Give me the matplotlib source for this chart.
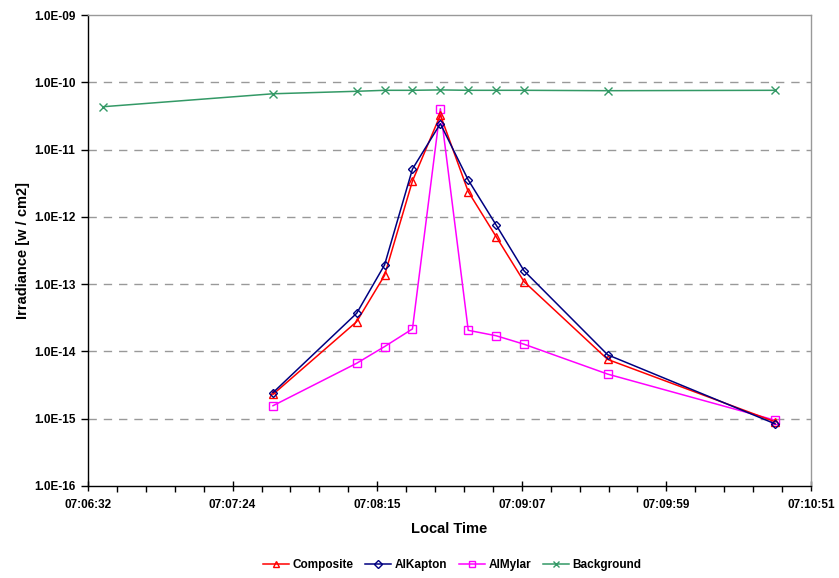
import matplotlib
matplotlib.use("Agg")
import matplotlib.pyplot as plt
from matplotlib.ticker import FixedLocator, FuncFormatter, NullFormatter
import numpy as np

plt.rcParams['font.family'] = ['Liberation Sans', 'DejaVu Sans']

# ---- data ----
bg_times = ["07:06:37", "07:07:38", "07:08:08", "07:08:18", "07:08:28", "07:08:38",
            "07:08:48", "07:08:58", "07:09:08", "07:09:38", "07:10:38"]
background = [4.33e-11, 6.75e-11, 7.35e-11, 7.6e-11, 7.6e-11, 7.7e-11,
              7.6e-11, 7.6e-11, 7.6e-11, 7.5e-11, 7.6e-11]

times = ["07:07:38", "07:08:08", "07:08:18", "07:08:28", "07:08:38",
         "07:08:48", "07:08:58", "07:09:08", "07:09:38", "07:10:38"]
composite = [2.3e-15, 2.77e-14, 1.35e-13, 3.41e-12, 3.27e-11,
             2.37e-12, 5.08e-13, 1.09e-13, 7.6e-15, 9.0e-16]
alkapton = [2.44e-15, 3.69e-14, 1.93e-13, 5.14e-12, 2.43e-11,
            3.53e-12, 7.57e-13, 1.58e-13, 8.9e-15, 8.4e-16]
almylar = [1.56e-15, 6.67e-15, 1.18e-14, 2.16e-14, 4.05e-11,
           2.06e-14, 1.71e-14, 1.28e-14, 4.6e-15, 9.5e-16]

x_min_days = 0.2962
x_max_days = 0.2992
x_major_days = 0.0006
x_minor_days = 0.00012
y_ticks = [1e-16, 1e-15, 1e-14, 1e-13, 1e-12, 1e-11, 1e-10, 1e-09]


def to_sec(s):
    h, m, sec = [int(v) for v in s.split(":")]
    return h * 3600 + m * 60 + sec


def fmt_time(v, pos=None):
    v = int(round(v))
    return "%02d:%02d:%02d" % (v // 3600, (v % 3600) // 60, v % 60)


def fmt_sci(v, pos=None):
    e = int(np.floor(np.log10(v) + 1e-9))
    m = v / 10 ** e
    sign = "-" if e < 0 else "+"
    return "%.1fE%s%02d" % (m, sign, abs(e))


bx = [to_sec(t) for t in bg_times]
tx = [to_sec(t) for t in times]

fig = plt.figure(figsize=(8.39, 5.78), dpi=100)
ax = fig.add_axes([88 / 839, 1 - 486 / 578, (811 - 88) / 839, (486 - 15) / 578])

lw = 1.1
ax.plot(bx, background, color="#339966", marker="x", ms=6, mew=1.0, lw=lw,
        label="Background", zorder=3)
ax.plot(tx, almylar, color="#FF00FF", marker="s", ms=6, mfc="none", mew=1.0, lw=lw,
        label="AlMylar", zorder=4)
ax.plot(tx, composite, color="#FF0000", marker="^", ms=6, mfc="none", mew=1.0, lw=lw,
        label="Composite", zorder=5)
ax.plot(tx, alkapton, color="#000080", marker="D", ms=4.5, mfc="none", mew=1.0, lw=lw,
        label="AlKapton", zorder=6)

ax.set_yscale("log")
ax.set_ylim(1e-16, 1e-09)
ax.yaxis.set_major_locator(FixedLocator(y_ticks))
ax.yaxis.set_minor_locator(FixedLocator([]))
ax.yaxis.set_major_formatter(FuncFormatter(fmt_sci))

xmin = x_min_days * 86400
xmax = x_max_days * 86400
ax.set_xlim(xmin, xmax)
major = np.arange(x_min_days, x_max_days + 1e-9, x_major_days) * 86400
minor = np.arange(x_min_days, x_max_days + 1e-9, x_minor_days) * 86400
ax.xaxis.set_major_locator(FixedLocator(major))
ax.xaxis.set_minor_locator(FixedLocator(minor))
ax.xaxis.set_major_formatter(FuncFormatter(fmt_time))
ax.xaxis.set_minor_formatter(NullFormatter())

for yv in y_ticks[1:-1]:
    ax.axhline(yv, color="#999999", lw=1.0, ls=(0, (6, 5)), zorder=1)

for side in ["left", "bottom"]:
    ax.spines[side].set_color("black")
    ax.spines[side].set_linewidth(1.0)
for side in ["top", "right"]:
    ax.spines[side].set_color("#999999")
    ax.spines[side].set_linewidth(1.0)

ax.tick_params(axis="y", which="major", direction="out", length=5, width=1,
               labelsize=8.5, pad=4)
ax.tick_params(axis="x", which="major", direction="inout", length=7, width=1,
               labelsize=8.5, pad=6)
ax.tick_params(axis="x", which="minor", direction="out", length=4, width=1)
for lab in ax.get_xticklabels() + ax.get_yticklabels():
    lab.set_fontweight("bold")

ax.set_ylabel("Irradiance [w / cm2]", fontsize=10.5, fontweight="bold", labelpad=3)
ax.set_xlabel("Local Time", fontsize=10.5, fontweight="bold", labelpad=8)

handles, labels = ax.get_legend_handles_labels()
order = ["Composite", "AlKapton", "AlMylar", "Background"]
hmap = dict(zip(labels, handles))
leg = fig.legend([hmap[k] for k in order], order, loc="center",
                 bbox_to_anchor=(452 / 839, 1 - 565 / 578), ncol=4, frameon=False,
                 prop={"weight": "bold", "size": 8.5}, handlelength=2.2,
                 handletextpad=0.3, columnspacing=1.0, markerscale=0.8)

fig.savefig("out.png", dpi=100)
